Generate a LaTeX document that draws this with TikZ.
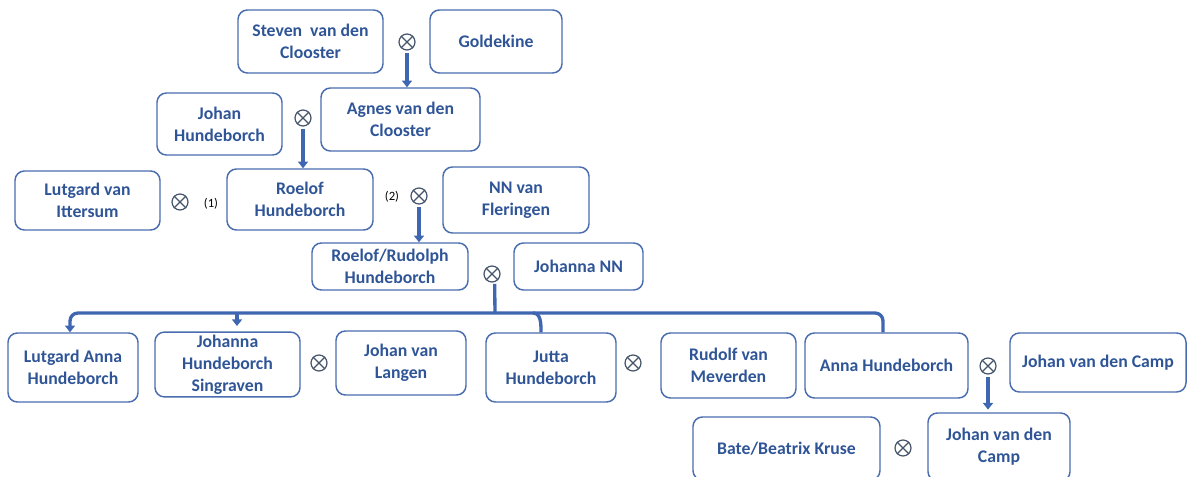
\documentclass[tikz,border=0pt]{standalone}
\usepackage{fontspec}
\setmainfont{Carlito}
\usetikzlibrary{arrows.meta}
\definecolor{boxc}{HTML}{4A6DB0}
\definecolor{txtc}{HTML}{2F5597}
\definecolor{linec}{HTML}{3F66B0}
\definecolor{symc}{HTML}{44546A}
\tikzset{
  fbox/.style={draw=boxc, line width=1.1pt, rounded corners=7pt, text=txtc, align=center,
    font=\fontsize{13.3}{16.5}\selectfont\bfseries, inner sep=2pt},
  marr/.style={circle, draw=symc, line width=0.9pt, minimum size=12pt, inner sep=0pt},
  small/.style={font=\fontsize{9.5}{11}\selectfont, text=black, inner sep=0pt},
  link/.style={draw=linec, line width=2.5pt},
  tip/.style={-{Triangle[width=7.5pt,length=5pt]}}
}
\newcommand\otimesdraw[1]{\draw[symc, line width=0.9pt] (#1.north east) -- (#1.south west) (#1.north west) -- (#1.south east);}
\begin{document}
\begin{tikzpicture}[x=0.75pt,y=-0.75pt]
\useasboundingbox (0,0) rectangle (1188,477);
\clip (0,0) rectangle (1188,477);
% boxes
\node[fbox, minimum width=108.75pt, minimum height=47.25pt] (steven) at (310.5,41.5) {Steven~ van den\\Clooster};
\node[fbox, minimum width=99pt, minimum height=47.25pt] (goldekine) at (496,41.5) {Goldekine};
\node[fbox, minimum width=93.75pt, minimum height=46.5pt] (johan) at (219.5,124) {Johan\\Hundeborch};
\node[fbox, minimum width=119.25pt, minimum height=47.25pt] (agnes) at (400.5,119.5) {Agnes van den\\Clooster};
\node[fbox, minimum width=108.75pt, minimum height=44.25pt] (lutgard) at (87.5,200.5) {Lutgard van\\Ittersum};
\node[fbox, minimum width=109.5pt, minimum height=45.75pt] (roelof) at (300,199.5) {Roelof\\Hundeborch};
\node[fbox, minimum width=109.5pt, minimum height=49.5pt] (nn) at (516,200) {NN van\\Fleringen};
\node[fbox, minimum width=117pt, minimum height=35.25pt] (rr) at (390,266.5) {Roelof/Rudolph\\Hundeborch};
\node[fbox, minimum width=96.75pt, minimum height=35.25pt] (johannann) at (578.5,266.5) {Johanna NN};
\node[fbox, minimum width=97.5pt, minimum height=51.75pt] (lutgarda) at (73,367.5) {Lutgard Anna\\Hundeborch};
\node[fbox, minimum width=108.75pt, minimum height=47.25pt] (johannah) at (227.5,364.5) {Johanna\\Hundeborch\\Singraven};
\node[fbox, minimum width=97.5pt, minimum height=48pt] (langen) at (401,363) {Johan van\\Langen};
\node[fbox, minimum width=97.5pt, minimum height=51.75pt] (jutta) at (551,367.5) {Jutta\\Hundeborch};
\node[fbox, minimum width=101.25pt, minimum height=48.75pt] (rudolf) at (728.5,365.5) {Rudolf van\\Meverden};
\node[fbox, minimum width=122.25pt, minimum height=48.75pt] (anna) at (886.5,365.5) {Anna Hundeborch};
\node[fbox, minimum width=132pt, minimum height=44.25pt] (campa) at (1098,362.5) {Johan van den Camp};
\node[fbox, minimum width=140.25pt, minimum height=47.25pt] (bate) at (786.5,448.5) {Bate/Beatrix Kruse};
\node[fbox, minimum width=106.5pt, minimum height=51pt] (campb) at (999,447) {Johan van den\\Camp};
% marriage symbols
\node[marr] (m1) at (407,42) {}; \otimesdraw{m1}
\node[marr] (m2) at (303,118) {}; \otimesdraw{m2}
\node[marr] (m3) at (180,202) {}; \otimesdraw{m3}
\node[marr] (m4) at (419,196) {}; \otimesdraw{m4}
\node[marr] (m5) at (492,274) {}; \otimesdraw{m5}
\node[marr] (m6) at (319,363) {}; \otimesdraw{m6}
\node[marr] (m7) at (633,363) {}; \otimesdraw{m7}
\node[marr] (m8) at (988,366) {}; \otimesdraw{m8}
\node[marr] (m9) at (903,448) {}; \otimesdraw{m9}
\node[small] (l1) at (211,204) {(1)};
\node[small] (l2) at (392,197) {(2)};
% descent lines
\draw[link, tip] ([yshift=-2pt]m1.south) -- (m1 |- agnes.north);
\draw[link, tip] ([yshift=-2pt]m2.south) -- (m2 |- roelof.north);
\draw[link, tip] ([yshift=-2pt]m4.south) -- (m4 |- rr.north);
\draw[link, tip] ([yshift=-2pt]m8.south) -- ([yshift=2pt]m8 |- campb.north);
\coordinate (hub) at (495,313);
\coordinate (b1) at (70,313);
\coordinate (b2) at (237,313);
\coordinate (b3) at (533,313);
\coordinate (b4) at (883,313);
\draw[link] ([xshift=2pt,yshift=-1pt]m5.south) -- (hub);
\draw[link, tip, rounded corners=6pt] (hub) -- (b1) -- (b1 |- lutgarda.north);
\draw[link, rounded corners=6pt] (hub) -- (b4) -- (b4 |- anna.north);
\draw[link, tip] (b2) -- ([yshift=4pt]b2 |- johannah.north);
\draw[link] (b3) to[out=0,in=90] ([xshift=6pt]b3 |- jutta.north);
\end{tikzpicture}
\end{document}
